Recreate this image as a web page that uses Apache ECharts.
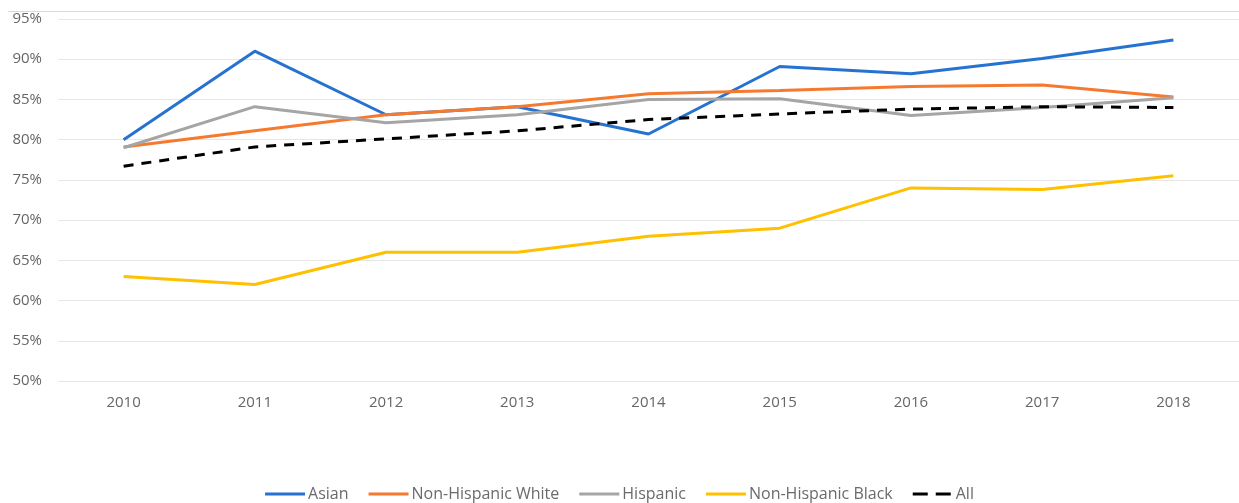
<!DOCTYPE html>
<html>
<head>
<meta charset="utf-8">
<script src="https://cdn.jsdelivr.net/npm/echarts@6/dist/echarts.min.js"></script>
<style>html,body{margin:0;padding:0;background:#fff;}#c{width:1239px;height:503px;}</style>
</head>
<body>
<div id="c"></div>
<script>
const years = ['2010','2011','2012','2013','2014','2015','2016','2017','2018'];
const asian = [80, 91, 83.1, 84.1, 80.7, 89.1, 88.2, 90.1, 92.4];
const white = [79.1, 81.1, 83.1, 84.1, 85.7, 86.1, 86.6, 86.8, 85.3];
const hispanic = [79, 84.1, 82.1, 83.1, 85.0, 85.1, 83.0, 84.0, 85.2];
const black = [63.0, 62.0, 66.0, 66.0, 68.0, 69.0, 74.0, 73.8, 75.5];
const all = [76.7, 79.1, 80.1, 81.1, 82.5, 83.2, 83.8, 84.1, 84.0];

const chart = echarts.init(document.getElementById('c'));
const font = 'Open Sans, Liberation Sans, sans-serif';
const solidIcon = 'path://M0,0h40v3h-40z';
const dashIcon = 'path://M0,0h15v3h-15z M23,0h15v3h-15z M40,0h0.01v3h-0.01z';
function mk(name, data, color, type) {
  return {
    name: name, type: 'line', data: data, symbol: 'none', showSymbol: false,
    lineStyle: {color: color, width: 3, type: type || 'solid'},
    itemStyle: {color: color}, animation: false
  };
}
chart.setOption({
  animation: false,
  graphic: [{type: 'line', shape: {x1: 8, y1: 11.5, x2: 1239, y2: 11.5}, style: {stroke: '#d9d9d9', lineWidth: 1}}],
  grid: {left: 58, right: 0, top: 19, bottom: 122, containLabel: false},
  legend: {
    top: 481, left: 'center', itemWidth: 40, itemHeight: 3, itemGap: 20,
    textStyle: {color: '#6b6b6b', fontSize: 16, fontFamily: font, padding: [0, 0, 0, -2]},
    data: [
      {name: 'Asian', icon: solidIcon},
      {name: 'Non-Hispanic White', icon: solidIcon},
      {name: 'Hispanic', icon: solidIcon},
      {name: 'Non-Hispanic Black', icon: solidIcon},
      {name: 'All', icon: dashIcon, itemStyle: {color: '#000'}}
    ]
  },
  xAxis: {
    type: 'category', data: years, boundaryGap: true,
    axisLine: {show: false}, axisTick: {show: false},
    axisLabel: {color: '#666666', fontSize: 15, fontFamily: font, margin: 14}
  },
  yAxis: {
    type: 'value', min: 50, max: 95, interval: 5,
    axisLine: {show: false}, axisTick: {show: false},
    axisLabel: {color: '#666666', fontSize: 15, fontFamily: font, margin: 16, formatter: v => v + '%'},
    splitLine: {lineStyle: {color: '#e6e6e6', width: 1}}
  },
  series: [
    mk('Asian', asian, '#2672D0'),
    mk('Non-Hispanic White', white, '#F57A30'),
    mk('Hispanic', hispanic, '#A5A5A5'),
    mk('Non-Hispanic Black', black, '#FFC000'),
    mk('All', all, '#000000', [10, 8])
  ]
});
</script>
</body>
</html>
